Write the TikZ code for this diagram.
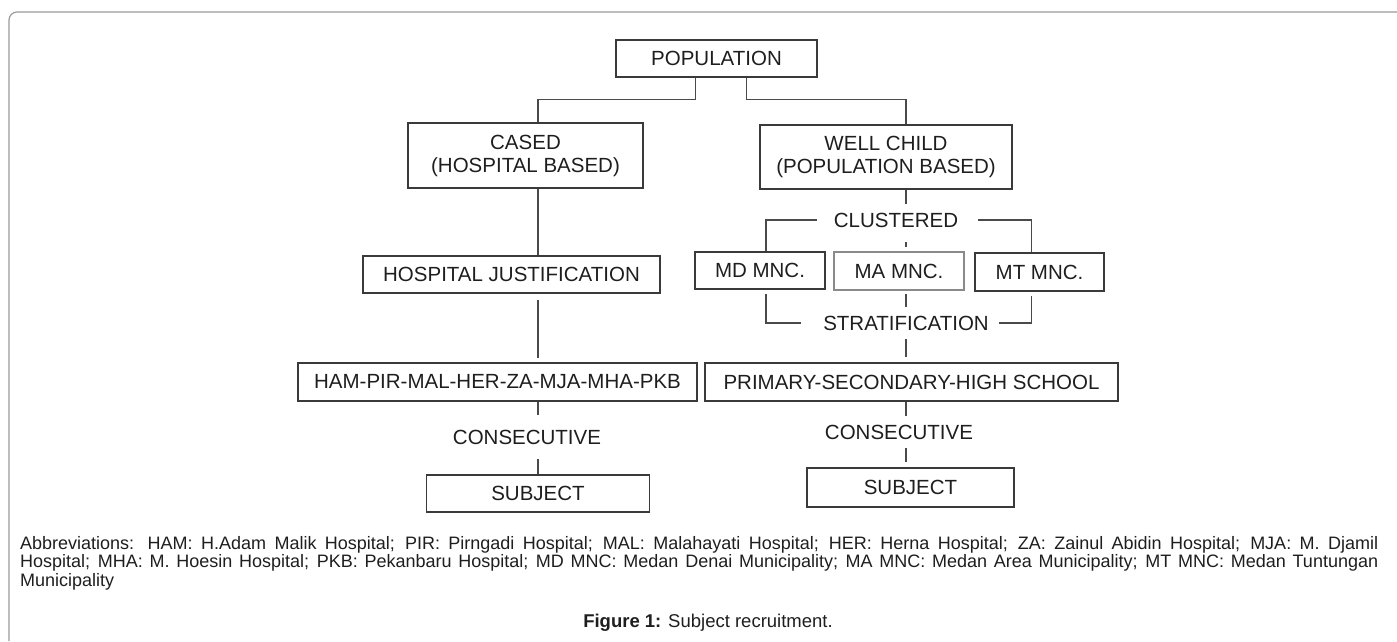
\documentclass[tikz,border=0pt]{standalone}
\usepackage{fontspec}
\setmainfont{Liberation Sans}
\usetikzlibrary{positioning}
\definecolor{boxgray}{HTML}{3A3A3A}
\definecolor{lightbox}{HTML}{8A8A8A}
\definecolor{linegray}{HTML}{4A4A4A}
\definecolor{framegray}{HTML}{9A9A9A}
\definecolor{txt}{HTML}{1E1E1E}

\begin{document}
\begin{tikzpicture}[x=1pt,y=-1pt,
		box/.style={draw=boxgray,line width=1.3pt,inner sep=0pt,text=txt,align=center,
			font=\fontsize{20.5}{23}\selectfont},
		lbl/.style={inner xsep=0pt,inner ysep=9pt,text=txt,font=\fontsize{20.5}{23}\selectfont},
		link/.style={draw=linegray,line width=1.3pt}]
				\useasboundingbox (0,0) rectangle (1397,641);
				\draw[framegray,line width=1.2pt,rounded corners=8pt] (9,641) -- (9,12) -- (1397,12);

				\node[box,minimum width=201,minimum height=37] (pop) at (716.5,58.5) {POPULATION};
				\node[box,minimum width=235,minimum height=65] (cased) at (525.5,155.5) {CASED\\(HOSPITAL BASED)};
				\node[box,minimum width=252,minimum height=64] (well) at (886,157) {WELL CHILD\\(POPULATION BASED)};
				\node[box,minimum width=297,minimum height=37] (hosp) at (511.5,274.5) {HOSPITAL JUSTIFICATION};
				\node[box,minimum width=130,minimum height=37] (md) at (760,270.5) {MD MNC.};
				\node[box,draw=lightbox,minimum width=130,minimum height=38] (ma) at (899,271) {MA MNC.};
				\node[box,minimum width=129,minimum height=38] (mt) at (1039.5,272) {MT MNC.};
				\node[box,minimum width=399,minimum height=38] (ham) at (497.5,382) {HAM-PIR-MAL-HER-ZA-MJA-MHA-PKB};
				\node[box,minimum width=413,minimum height=38] (prim) at (911.5,382) {PRIMARY-SECONDARY-HIGH SCHOOL};
				\node[box,minimum width=223,minimum height=37] (subjL) at (538,493.5) {SUBJECT};
				\node[box,minimum width=207,minimum height=39] (subjR) at (910.5,487.5) {SUBJECT};
				\node[lbl] (clus) at (896,220) {CLUSTERED};
				\node[lbl] (strat) at (906,323) {STRATIFICATION};
				\node[lbl,inner ysep=15pt] (consL) at (527,437) {CONSECUTIVE};
				\node[lbl] (consR) at (899,432) {CONSECUTIVE};

					\path[link] ([xshift=-21pt]pop.south) -- ++(0,22) -| (cased.north -| subjL);
					\path[link] ([xshift=30pt]pop.south) -- ++(0,22) -| (well.north -| strat);
					\path[link] (cased.south -| subjL) -- (hosp.north -| subjL);
					\path[link,shorten <=6pt,shorten >=4pt] (hosp.south -| subjL) -- (ham.north -| subjL);
					\path[link] (ham.south -| subjL) -- (consL.north -| subjL);
					\path[link] (consL.south -| subjL) -- (subjL.north);
					\path[link] (well.south -| strat) -- (clus.north -| strat);
					\path[link] ([xshift=-17pt]clus.west) -| ([xshift=6pt]md.north);
					\path[link] ([xshift=20pt]clus.east) -| ([xshift=-8pt]mt.north);
					\path[link,shorten <=6pt,shorten >=4pt] (clus.south -| strat) -- (ma.north -| strat);
					\path[link,shorten <=3pt] (ma.south -| strat) -- (strat.north);
					\path[link,shorten <=4pt] ([xshift=6pt]md.south) |- ([xshift=-22pt]strat.west);
					\path[link,shorten <=4pt] ([xshift=-8pt]mt.south) |- ([xshift=10pt]strat.east);
					\path[link,shorten >=5pt] (strat.south) -- (prim.north -| strat);
					\path[link] (prim.south -| strat) -- (consR.north -| strat);
					\path[link,shorten >=5pt] (consR.south -| strat) -- (subjR.north -| strat);

				\node[anchor=north west,inner sep=0pt,text width=1358pt,align=justify,text=txt,
					font=\fontsize{18}{18.6}\selectfont] (abbr) at (20,536)
					{\tolerance=10000 \hyphenpenalty=10000 Abbreviations: HAM: H.Adam Malik Hospital; PIR: Pirngadi Hospital; MAL: Malahayati Hospital; HER: Herna Hospital; ZA: Zainul Abidin Hospital; MJA: M. Djamil\linebreak Hospital; MHA: M. Hoesin Hospital; PKB: Pekanbaru Hospital; MD MNC: Medan Denai Municipality; MA MNC: Medan Area Municipality; MT MNC: Medan Tuntungan\linebreak Municipality};
				\node[text=txt,font=\fontsize{18.5}{20}\selectfont] (fig) at (708,623) {\textbf{Figure 1:} Subject recruitment.};
			\end{tikzpicture}
\end{document}
